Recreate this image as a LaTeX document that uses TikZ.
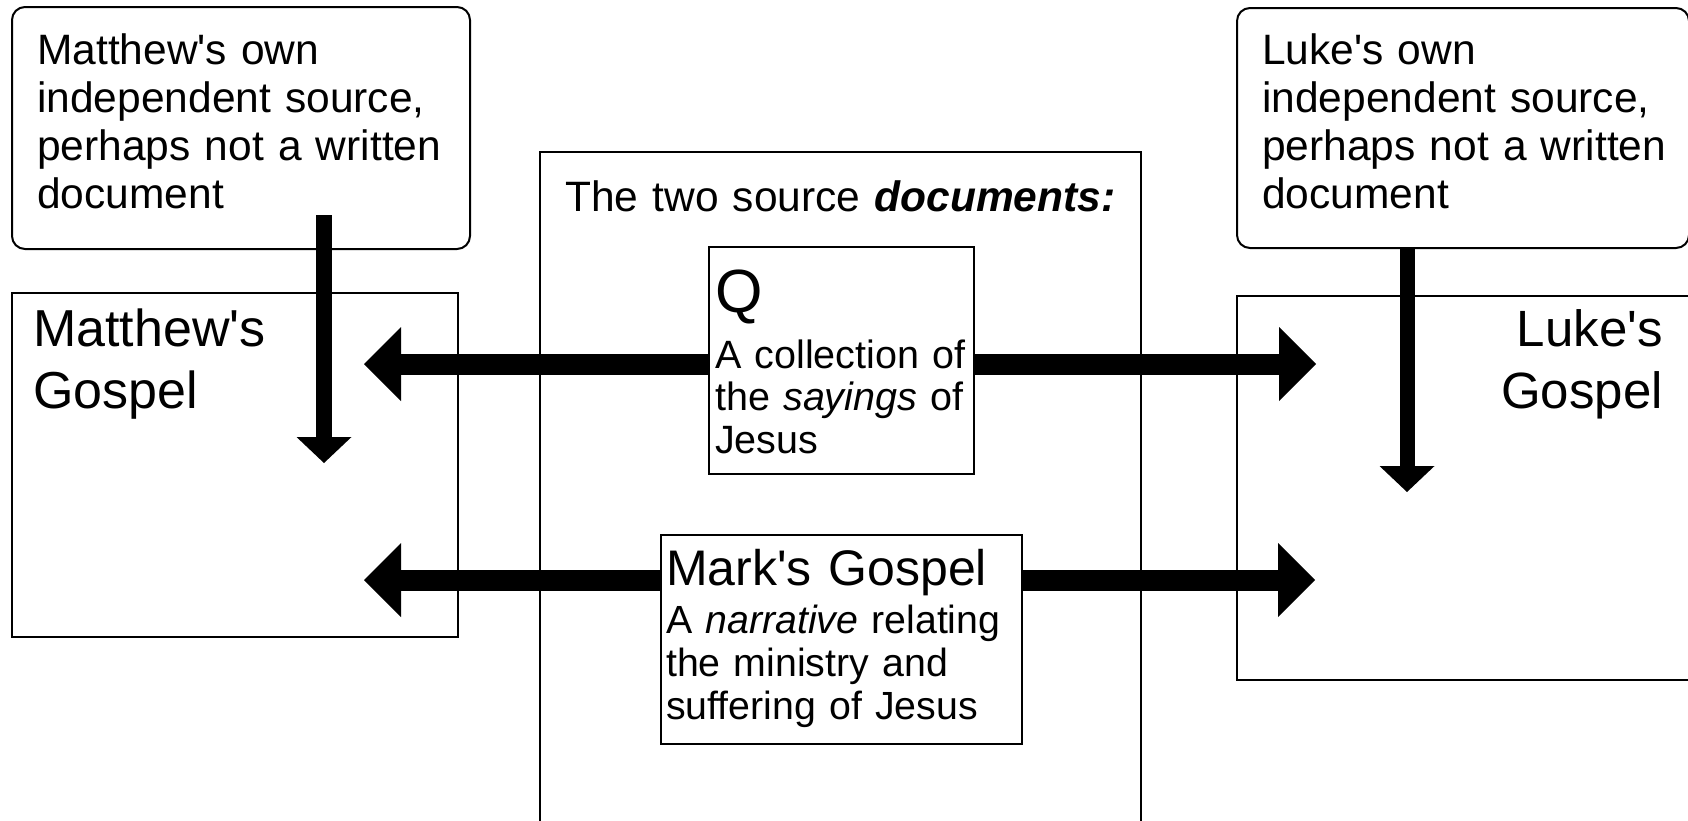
\documentclass[tikz,border=0pt]{standalone}
\usepackage{fontspec}
\setmainfont{Liberation Sans}[Ligatures=TeXOff]
\usetikzlibrary{arrows.meta,positioning}

\begin{document}
\begin{tikzpicture}[x=1pt,y=-1pt,
    box/.style={draw,line width=2pt,inner sep=0pt,anchor=north west},
    srcbox/.style={box,rounded corners=13pt},
    txt/.style={anchor=base west,inner sep=0pt,align=left,text width=#1},
    bigarrow/.style={line width=21pt,-{Triangle[length=37pt,width=74pt,line width=0pt]}},
    downarrow/.style={line width=16pt,-{Triangle[length=26pt,width=55pt,line width=0pt]}}]
    \useasboundingbox (0,0) rectangle (1688,820);
    \clip (0,0) rectangle (1688,820);
    \fill[white] (0,0) rectangle (1688,820);

    % the boxes
    \node[srcbox,minimum width=458pt,minimum height=242pt] (mattsrc) at (11,6) {};
    \node[srcbox,minimum width=452pt,minimum height=240pt] (lukesrc) at (1236,7) {};
    \node[box,minimum width=446pt,minimum height=344pt] (mattbox) at (11,292) {};
    \node[box,minimum width=480pt,minimum height=384pt] (lukebox) at (1236,295) {};
    \node[box,minimum width=601pt,minimum height=690pt] (twosrc) at (539,151) {};
    \node[box,fill=white,minimum width=265pt,minimum height=227pt] (qbox) at (708,246) {};
    \node[box,fill=white,minimum width=361pt,minimum height=209pt] (markbox) at (660,534) {};

    % the texts
    \node[txt=420pt,font=\fontsize{42.5}{48}\selectfont] (mattsrctext) at (37,64)
        {Matthew's own\\independent source,\\perhaps not a written\\document};
    \node[txt=420pt,font=\fontsize{42.5}{48}\selectfont] (lukesrctext) at (1262,64)
        {Luke's own\\independent source,\\perhaps not a written\\document};
    \node[txt=300pt,font=\fontsize{52}{62}\selectfont] (mattlabel) at (33,346) {Matthew's\\Gospel};
    \node[anchor=base east,inner sep=0pt,align=right,text width=250pt,
        font=\fontsize{51}{62}\selectfont] (lukelabel) at (1663,346) {Luke's\\Gospel};
    \node[txt=560pt,font=\fontsize{42.5}{47}\selectfont] (twosrctext) at (565,211)
        {The two source \textbf{\textit{documents:}}};
    \node[txt=250pt,font=\fontsize{61}{61}\selectfont] (qlabel) at (715,312) {Q};
    \node[txt=256pt,font=\fontsize{39.5}{42.5}\selectfont] (qtext) at (715,368)
        {A collection of\\the \textit{sayings} of\\Jesus};
    \node[txt=350pt,font=\fontsize{50}{50}\selectfont] (marklabel) at (666,585) {Mark's Gospel};
    \node[txt=350pt,font=\fontsize{39.3}{43}\selectfont] (marktext) at (666,633)
        {A \textit{narrative} relating\\the ministry and\\suffering of Jesus};

    % the arrows
    \coordinate (qleft) at (364,364);
    \coordinate (qright) at (1316,364);
    \coordinate (markleft) at (364,580);
    \coordinate (markright) at (1315,580);
    \coordinate (mattdown) at (324,463);
    \coordinate (lukedown) at (1407,492);

    \draw[bigarrow] (qleft -| qbox.west) -- (qleft);
    \draw[bigarrow] (qright -| qbox.east) -- (qright);
    \draw[bigarrow] (markleft -| markbox.west) -- (markleft);
    \draw[bigarrow] (markright -| markbox.east) -- (markright);
    \draw[downarrow] (324,215) -- (mattdown);
    \draw[downarrow,line width=15pt] (lukesrc.south -| lukedown) -- (lukedown);
\end{tikzpicture}
\end{document}
